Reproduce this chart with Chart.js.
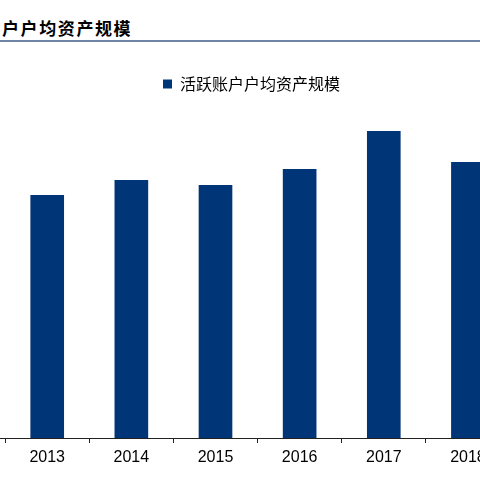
<!DOCTYPE html>
<html>
<head>
<meta charset="utf-8">
<script src="https://cdn.jsdelivr.net/npm/chart.js@4.4.1/dist/chart.umd.min.js"></script>
<style>
  html, body { margin: 0; padding: 0; background: #fff; overflow: hidden; }
  body { width: 480px; height: 480px; position: relative; }
  #title {
    position: absolute; left: 2px; top: 17px;
    font: bold 17px "Noto Sans CJK SC", sans-serif;
    letter-spacing: 1.6px; line-height: 22px; color: #000;
  }
  #rule {
    position: absolute; left: 0; top: 40px; width: 480px; height: 1.5px;
    background: #7085a5;
  }
  #wrap { position: absolute; left: -79px; top: 66px; width: 661px; height: 414px; }
</style>
</head>
<body>
<div id="title">户户均资产规模</div>
<div id="rule"></div>
<div id="wrap"><canvas id="chart"></canvas></div>
<script>
// 2012 sits off the left edge of the crop, its bar is not visible
const years = ['2012', '2013', '2014', '2015', '2016', '2017', '2018'];
const avgAssets = [null, 24.3, 25.8, 25.3, 26.9, 30.7, 27.6];
const seriesName = '活跃账户户均资产规模';

const ctx = document.getElementById('chart').getContext('2d');
new Chart(ctx, {
    type: 'bar',
    data: {
        labels: years,
        datasets: [{
            label: seriesName,
            data: avgAssets,
            backgroundColor: '#003578',
            barPercentage: 0.4,
            categoryPercentage: 1.0
        }]
    },
    options: {
        responsive: true,
        maintainAspectRatio: false,
        animation: false,
        layout: { padding: 0 },
        plugins: {
            legend: {
                position: 'top',
                labels: {
                    boxWidth: 9,
                    boxHeight: 9,
                    padding: 10,
                    color: '#000',
                    font: { family: '"Noto Sans CJK SC", sans-serif', size: 16 }
                }
            },
            tooltip: { enabled: false }
        },
        scales: {
            x: {
                offset: true,
                grid: {
                    offset: true,
                    drawOnChartArea: false,
                    drawTicks: true,
                    tickLength: 5,
                    color: '#222'
                },
                border: { display: true, color: '#222', width: 1 },
                ticks: {
                    padding: 5,
                    color: '#000',
                    font: { family: '"Liberation Sans", Arial, sans-serif', size: 16 }
                },
                afterFit: function(scale) { scale.height = 42; }
            },
            y: {
                position: 'right',
                min: 0,
                max: 33.6,
                grid: { display: false },
                border: { display: false },
                ticks: { display: false },
                afterFit: function(scale) { scale.width = 72; }
            }
        }
    }
});
</script>
</body>
</html>
